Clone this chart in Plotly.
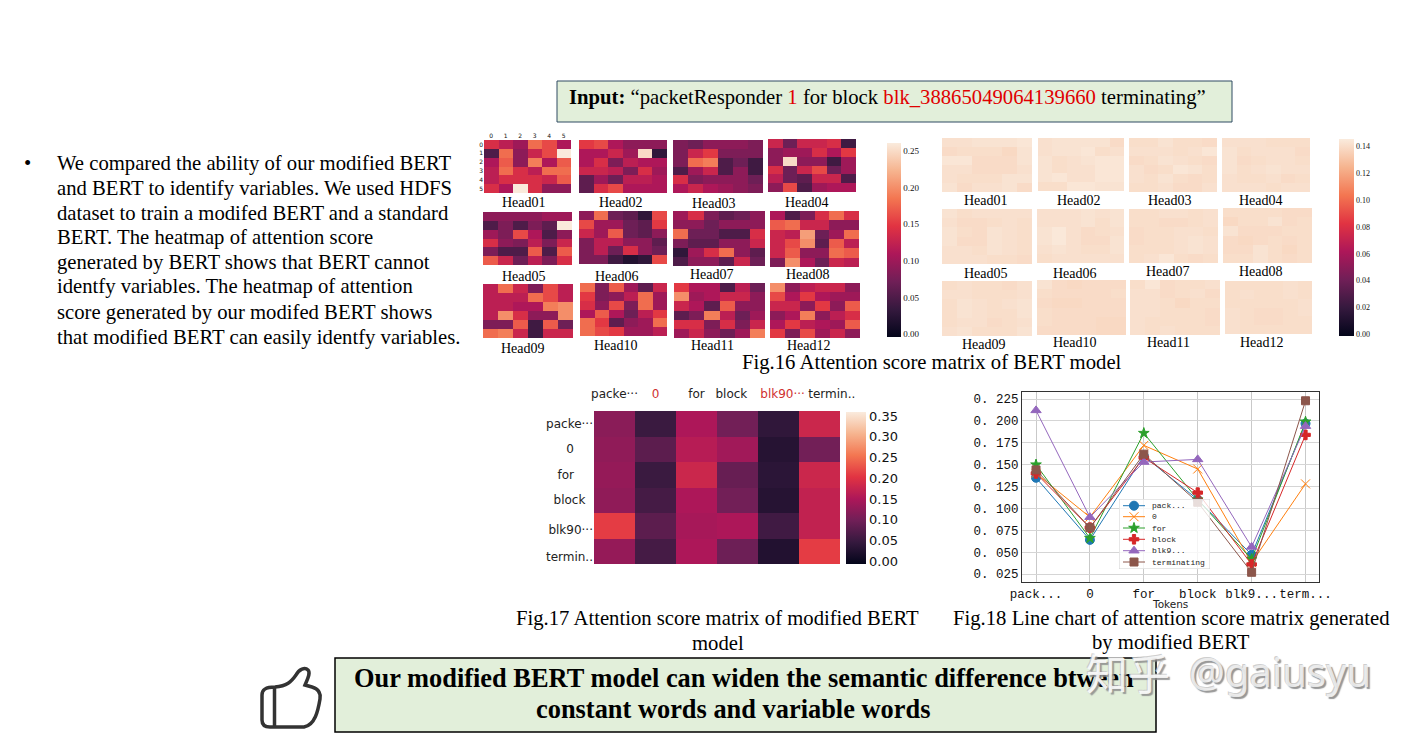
import plotly.graph_objects as go

W, H = 1408, 735

ROCKET = [[0, "#03051a"], [1/7, "#35193e"], [2/7, "#701f57"], [3/7, "#ad1759"],
          [4/7, "#e13342"], [5/7, "#f37651"], [6/7, "#f6b48f"], [1, "#faebdd"]]

# ---- Fig.16 left: attention scores
L01 = [[.14,.12,.10,.18,.16,.11],[.05,.18,.09,.13,.16,.26],[.11,.17,.09,.19,.11,.17],
       [.12,.18,.14,.12,.18,.18],[.12,.14,.14,.14,.13,.17],[.14,.11,.26,.14,.09,.09]]
L02 = [[.15,.16,.11,.09,.09,.09],[.11,.11,.13,.10,.25,.03],[.11,.14,.08,.12,.11,.11],
       [.13,.13,.12,.08,.14,.10],[.06,.10,.07,.12,.12,.11],[.06,.14,.16,.11,.11,.11]]
L03 = [[.08,.07,.09,.09,.09,.08],[.08,.13,.15,.08,.08,.08],[.08,.18,.19,.05,.07,.04],
       [.05,.10,.13,.05,.09,.04],[.14,.08,.09,.09,.09,.07],[.11,.13,.11,.10,.09,.08]]
L04 = [[.13,.07,.13,.13,.14,.04],[.09,.10,.10,.14,.11,.15],[.09,.25,.09,.09,.04,.10],
       [.14,.07,.13,.16,.07,.10],[.12,.07,.06,.13,.13,.05],[.09,.16,.05,.10,.11,.11]]
L05 = [[.09,.09,.09,.09,.10,.10],[.05,.08,.05,.08,.06,.26],[.10,.08,.16,.11,.05,.09],
       [.14,.09,.08,.12,.08,.13],[.08,.05,.05,.17,.05,.17],[.17,.13,.07,.12,.08,.14]]
L06 = [[.09,.18,.07,.06,.03,.16],[.16,.10,.10,.07,.06,.15],[.13,.10,.17,.07,.06,.09],
       [.08,.12,.12,.09,.09,.06],[.08,.12,.07,.14,.09,.07],[.08,.08,.04,.02,.03,.16]]
L07 = [[.10,.14,.08,.06,.07,.09],[.09,.09,.07,.09,.09,.09],[.18,.07,.07,.05,.05,.14],
       [.08,.06,.06,.09,.09,.13],[.03,.10,.14,.18,.09,.06],[.05,.09,.09,.06,.13,.07]]
L08 = [[.11,.05,.08,.14,.18,.14],[.17,.18,.13,.13,.09,.09],[.13,.12,.21,.07,.10,.18],
       [.13,.16,.20,.06,.17,.12],[.13,.17,.09,.09,.18,.17],[.08,.20,.11,.07,.13,.12]]
L09 = [[.12,.18,.13,.08,.16,.12],[.12,.12,.12,.18,.16,.12],[.12,.12,.11,.11,.19,.20],
       [.12,.20,.14,.09,.09,.20],[.08,.08,.17,.04,.17,.07],[.18,.19,.13,.04,.13,.13]]
L10 = [[.18,.08,.17,.10,.06,.13],[.15,.08,.09,.12,.18,.10],[.14,.09,.16,.08,.18,.10],
       [.11,.17,.11,.07,.12,.15],[.18,.15,.06,.09,.10,.18],[.18,.16,.15,.10,.10,.12]]
L11 = [[.15,.11,.11,.05,.12,.07],[.20,.10,.11,.13,.13,.09],[.13,.11,.06,.17,.09,.09],
       [.06,.08,.19,.12,.07,.10],[.14,.14,.08,.14,.08,.13],[.10,.13,.09,.07,.10,.19]]
L12 = [[.20,.09,.12,.13,.13,.09],[.16,.11,.15,.11,.10,.10],[.13,.13,.09,.15,.09,.17],
       [.09,.11,.19,.09,.12,.14],[.11,.15,.12,.11,.10,.17],[.15,.08,.16,.10,.13,.09]]

# ---- Fig.16 right
R01 = [[.141,.141,.142,.142,.142,.143],[.139,.140,.140,.140,.138,.142],[.143,.143,.139,.139,.139,.142],
       [.141,.141,.139,.139,.139,.141],[.141,.140,.140,.140,.142,.142],[.142,.139,.141,.141,.142,.139]]
R02 = [[.141,.142,.142,.142,.142,.139],[.141,.142,.142,.143,.140,.141],[.142,.140,.141,.142,.143,.143],
       [.142,.140,.141,.141,.143,.143],[.142,.143,.141,.141,.143,.143],[.140,.140,.143,.143,.142,.142]]
R03 = [[.140,.140,.142,.140,.140,.139],[.141,.141,.141,.140,.141,.143],[.139,.140,.142,.141,.140,.139],
       [.141,.139,.140,.143,.142,.140],[.141,.140,.142,.140,.139,.140],[.140,.140,.141,.139,.139,.141]]
R04 = [[.141,.141,.141,.140,.140,.140],[.142,.140,.141,.141,.141,.139],[.142,.139,.140,.141,.141,.140],
       [.142,.140,.141,.142,.141,.141],[.141,.140,.140,.141,.139,.140],[.141,.141,.141,.140,.141,.141]]
R05 = [[.142,.140,.141,.141,.141,.141],[.141,.139,.139,.140,.141,.140],[.142,.140,.139,.142,.141,.140],
       [.142,.139,.139,.142,.141,.140],[.141,.141,.140,.142,.141,.140],[.141,.141,.141,.140,.140,.139]]
R06 = [[.141,.141,.141,.142,.141,.142],[.141,.141,.141,.142,.140,.142],[.142,.144,.141,.139,.140,.141],
       [.142,.144,.141,.139,.139,.142],[.141,.142,.141,.140,.140,.142],[.140,.141,.141,.141,.141,.141]]
R07 = [[.140,.140,.141,.141,.140,.141],[.140,.140,.139,.139,.140,.141],[.139,.140,.140,.141,.141,.140],
       [.139,.140,.140,.141,.142,.141],[.140,.140,.140,.141,.142,.141],[.140,.141,.143,.140,.139,.140]]
R08 = [[.140,.140,.140,.140,.139,.139],[.138,.140,.140,.142,.139,.140],[.142,.139,.139,.139,.140,.140],
       [.139,.138,.139,.140,.139,.140],[.139,.139,.142,.140,.138,.140],[.140,.140,.142,.140,.139,.140]]
R09 = [[.140,.141,.140,.140,.139,.141],[.141,.141,.140,.140,.140,.141],[.140,.142,.141,.140,.141,.142],
       [.140,.142,.141,.140,.140,.142],[.140,.141,.141,.139,.140,.141],[.141,.142,.140,.140,.140,.142]]
R10 = [[.142,.139,.138,.139,.139,.139],[.140,.139,.139,.139,.139,.140],[.139,.138,.138,.139,.139,.139],
       [.140,.139,.139,.139,.139,.139],[.140,.139,.139,.139,.138,.138],[.139,.139,.139,.139,.138,.138]]
R11 = [[.140,.143,.139,.140,.140,.141],[.141,.141,.139,.140,.141,.139],[.141,.141,.140,.138,.140,.140],
       [.141,.141,.140,.140,.140,.139],[.141,.140,.140,.140,.140,.139],[.141,.140,.141,.140,.140,.140]]
R12 = [[.140,.140,.140,.140,.141,.140],[.140,.141,.140,.140,.141,.140],[.140,.140,.140,.140,.140,.141],
       [.141,.140,.139,.139,.140,.141],[.141,.140,.139,.139,.140,.140],[.141,.140,.140,.140,.140,.140]]

HEADS = ["Head%02d" % i for i in range(1, 13)]
LEFT = [L01, L02, L03, L04, L05, L06, L07, L08, L09, L10, L11, L12]
RIGHT = [R01, R02, R03, R04, R05, R06, R07, R08, R09, R10, R11, R12]

# ---- Fig.17
F17 = [[.120,.050,.150,.100,.040,.180],[.125,.080,.160,.140,.030,.100],[.130,.050,.180,.090,.035,.180],
       [.125,.060,.150,.100,.030,.170],[.210,.080,.145,.150,.055,.170],[.130,.060,.150,.095,.025,.210]]
F17_XLABELS = ["packe···", "<span style='color:#d03030'>0</span>", "for", "block",
               "<span style='color:#d03030'>blk90···</span>", "termin.."]
F17_YLABELS = ["packe···", "0\u00a0\u00a0\u00a0\u00a0\u00a0", "for\u00a0\u00a0\u00a0\u00a0\u00a0",
               "block\u00a0\u00a0", "blk90···", "termin.."]

# ---- Fig.18
TOKENS = ["pack...", "0", "for", "block", "blk9...", "term..."]
S_PACK = [.135, .064, .160, .110, .047, .197]
S_ZERO = [.140, .090, .172, .145, .038, .128]
S_FOR = [.150, .066, .186, .110, .042, .199]
S_BLOCK = [.140, .078, .158, .118, .036, .184]
S_BLK9 = [.212, .090, .153, .156, .056, .194]
S_TERM = [.144, .078, .162, .107, .027, .223]
LEGEND = ["pack...", "0", "for", "block", "blk9...", "terminating"]
COLORS = ["#1f77b4", "#ff7f0e", "#2ca02c", "#d62728", "#9467bd", "#8c564b"]
SYMBOLS = ["circle", "x-thin", "star", "cross", "triangle-up", "square"]
SIZES = [9, 9, 8, 8, 9, 8]
Y_TICKS = [.025, .05, .075, .1, .125, .15, .175, .2, .225]

# ---- Layout rectangles (left, top, right, bottom in page pixels)
L_RECTS = [(484,140,571,193),(579,140,667,193),(673,140,763,193),(768,139,856,192),
           (483,212,572,265),(579,211,667,264),(673,211,765,266),(770,211,859,267),
           (483,284,573,338),(580,283,667,336),(674,283,765,338),(770,283,860,338)]
R_RECTS = [(942,138,1032,192),(1038,138,1124,191),(1129,138,1217,192),(1222,138,1310,192),
           (942,209,1032,264),(1037,209,1124,263),(1129,209,1218,263),(1223,208,1312,263),
           (942,281,1032,336),(1037,280,1126,335),(1130,280,1220,335),(1225,281,1312,334)]
L_LABELS = [(524,202),(621,202),(714,203),(807,202),(524,276),(617,276),(712,274),(808,274),
            (523,348),(616,345),(712,345),(809,345)]
R_LABELS = [(986,200),(1079,200),(1170,201),(1261,200),(986,273),(1075,273),(1168,271),(1261,271),
            (984,344),(1075,342),(1168,342),(1262,342)]

SERIF = "Liberation Serif"
SANS = "DejaVu Sans"
MONO = "Liberation Mono"

fig = go.Figure()
layout_axes = {}
axis_n = [0]
annots = []
shapes = []


def px(x):
    return x / W


def py(y):
    return 1 - y / H


def new_axes(rect, xopts=None, yopts=None):
    axis_n[0] += 1
    n = axis_n[0]
    l, t, r, b = rect
    xa = dict(domain=[px(l), px(r)], anchor="y%d" % n, showgrid=False, zeroline=False,
              showticklabels=False, ticks="", showline=False)
    ya = dict(domain=[py(b), py(t)], anchor="x%d" % n, showgrid=False, zeroline=False,
              showticklabels=False, ticks="", showline=False)
    xa.update(xopts or {})
    ya.update(yopts or {})
    layout_axes["xaxis%d" % n] = xa
    layout_axes["yaxis%d" % n] = ya
    return "x%d" % n, "y%d" % n


def text(s, x, y, size, anchor="center", color="#000", family=SERIF, **font):
    annots.append(dict(text=s, x=px(x), y=py(y), xref="paper", yref="paper", showarrow=False,
                       xanchor=anchor, yanchor="middle", align="left" if anchor == "left" else "center",
                       font=dict(family=family, size=size, color=color, **font)))


def cbar(rect, dtick, fmt, size, family):
    l, t, r, b = rect
    return dict(x=px(l), xanchor="left", y=py(t), yanchor="top", len=(b - t) / H, lenmode="fraction",
                thickness=r - l, thicknessmode="pixels", xpad=0, ypad=0, outlinewidth=0,
                dtick=dtick, tick0=0, tickformat=fmt, ticks="", ticklen=0,
                tickfont=dict(family=family, size=size, color="#111"))


def heat(z, rect, zmin, zmax, colorbar=None, xopts=None, yopts=None):
    xa, ya = new_axes(rect, xopts, dict(autorange="reversed", **(yopts or {})))
    fig.add_trace(go.Heatmap(z=z, xaxis=xa, yaxis=ya, zmin=zmin, zmax=zmax, colorscale=ROCKET,
                             showscale=colorbar is not None, colorbar=colorbar, xgap=0, ygap=0,
                             hoverinfo="skip"))


# Fig.16
small_x = dict(showticklabels=True, side="top", tickvals=list(range(6)), ticktext=[str(i) for i in range(6)],
               tickangle=0, tickfont=dict(family=SANS, size=6, color="#111"))
small_y = dict(showticklabels=True, tickvals=list(range(6)), ticktext=[str(i) for i in range(6)],
               tickfont=dict(family=SANS, size=6, color="#111"))
for i, z in enumerate(LEFT):
    cb = cbar((887, 143, 901, 337), .05, ".2f", 9, SERIF) if i == 11 else None
    heat(z, L_RECTS[i], -.004, .261, cb, small_x if i == 0 else None, small_y if i == 0 else None)
    text(HEADS[i], L_LABELS[i][0], L_LABELS[i][1], 14)
for i, z in enumerate(RIGHT):
    cb = cbar((1339, 139, 1354, 336), .02, ".2f", 8, SERIF) if i == 11 else None
    heat(z, R_RECTS[i], -.001, .145, cb)
    text(HEADS[i], R_LABELS[i][0], R_LABELS[i][1], 14)

# Fig.17
heat(F17, (594, 411, 840, 564), -.007, .36, cbar((846, 412, 866, 564), .05, ".2f", 13, SANS),
     dict(showticklabels=True, side="top", tickvals=[0, 1, 2, 2.85, 4.1, 5.3], ticktext=F17_XLABELS,
          ticks="outside", ticklen=7, tickcolor="rgba(0,0,0,0)", tickangle=0,
          tickfont=dict(family=SANS, size=12, color="#222")),
     dict(showticklabels=True, tickvals=[0, 1, 2, 3, 4.15, 5.2], ticktext=F17_YLABELS,
          tickfont=dict(family=SANS, size=12, color="#222")))

# Fig.18
xa, ya = new_axes((1022, 392, 1319, 582),
                  dict(range=[-.26, 5.25], tickvals=list(range(6)), ticktext=TOKENS, showticklabels=True,
                       tickangle=0, showgrid=True, gridcolor="#c9c9c9", gridwidth=1, showline=True, mirror=True,
                       linecolor="#333", linewidth=1, tickfont=dict(family=MONO, size=12.5, color="#111")),
                  dict(range=[.0159, .233], tickvals=Y_TICKS, ticktext=["0. %03d" % round(v * 1000) for v in Y_TICKS],
                       showticklabels=True, showgrid=True, gridcolor="#d5d5d5", gridwidth=1, showline=True,
                       mirror=True, linecolor="#333", linewidth=1, tickfont=dict(family=MONO, size=12.5, color="#111")))
for i, s in enumerate([S_PACK, S_ZERO, S_FOR, S_BLOCK, S_BLK9, S_TERM]):
    fig.add_trace(go.Scatter(x=list(range(6)), y=s, xaxis=xa, yaxis=ya, mode="lines+markers", showlegend=False,
                             line=dict(color=COLORS[i], width=1),
                             marker=dict(symbol=SYMBOLS[i], size=SIZES[i], color=COLORS[i],
                                         line=dict(color=COLORS[i], width=1))))
text("Tokens", 1170, 604, 10.5, family=SANS, color="#222")

# Fig.18 key, drawn with its own little axes since its rows are tighter than Plotly's legend allows
kx, ky = new_axes((1119, 499, 1210, 569), dict(range=[0, 91]), dict(range=[70, 0]))
fig.add_trace(go.Scatter(x=[0, 91, 91, 0, 0], y=[0, 0, 70, 70, 0], xaxis=kx, yaxis=ky, mode="lines", fill="toself",
                         fillcolor="rgba(255,255,255,0.8)", line=dict(color="#d0d0d0", width=1), showlegend=False))
key_rows = [6.7, 17.7, 29, 40.3, 51.7, 63]
for i, name in enumerate(LEGEND):
    fig.add_trace(go.Scatter(x=[4, 26], y=[key_rows[i]] * 2, xaxis=kx, yaxis=ky, mode="lines",
                             showlegend=False, line=dict(color=COLORS[i], width=1)))
    fig.add_trace(go.Scatter(x=[15], y=[key_rows[i]], xaxis=kx, yaxis=ky, mode="markers", showlegend=False,
                             marker=dict(symbol=SYMBOLS[i], size=SIZES[i], color=COLORS[i],
                                         line=dict(color=COLORS[i], width=1))))
    text(name, 1150, 499 + key_rows[i], 8, anchor="left", family=MONO, color="#222")

# Slide boxes
def box(l, t, r, b, fill, line, width):
    shapes.append(dict(type="rect", xref="paper", yref="paper", x0=px(l), x1=px(r), y0=py(b), y1=py(t),
                       fillcolor=fill, line=dict(color=line, width=width), layer="below"))


box(557, 81, 1232, 122, "#e2efda", "#2e4a62", 1)
box(335, 658, 1156, 732, "#e2efda", "#000", 1.5)

# Slide text
RED = "#e00000"
TS = 20.7
text("<b>Input:</b> “packetResponder <span style='color:%s'>1</span> for block "
     "<span style='color:%s'>blk_38865049064139660</span> terminating”" % (RED, RED), 567, 98, TS, anchor="left")
text("•", 22, 163, TS, anchor="left")
PARA = ["We compared the ability of our modified BERT", "and BERT to identify variables. We used HDFS",
        "dataset to train a modifed BERT and a standard", "BERT. The heatmap of attention score",
        "generated by BERT shows that BERT cannot", "identfy variables. The heatmap of attention",
        "score generated by our modifed BERT shows", "that modified BERT can easily identfy variables."]
PARA_Y = [163, 188, 213, 238, 262, 287, 312, 337]
for s, y in zip(PARA, PARA_Y):
    text(s, 55, y, TS, anchor="left")
text("Fig.16 Attention score matrix of BERT model", 932, 363, TS)
text("Fig.17 Attention score matrix of modified BERT", 718, 618, TS)
text("model", 718, 643, TS)
text("Fig.18 Line chart of attention score matrix generated", 1171, 618, TS)
text("by modified BERT", 1171, 642, TS)
text("<b>Our modified BERT model can widen the semantic difference btween</b>", 744, 678, 26.4)
text("<b>constant words and variable words</b>", 733, 709, 26.4)

# Thumb icon
def P(x, y):
    return "%.5f,%.5f" % (px(x), py(y))


thumb = ("M" + P(275, 687) + " C" + P(287, 686) + " " + P(291, 682) + " " + P(296, 675) +
         " C" + P(299, 669) + " " + P(305, 667) + " " + P(308, 670) +
         " C" + P(311, 673) + " " + P(307, 680) + " " + P(305, 685) +
         " L" + P(312, 687) + " C" + P(319, 689) + " " + P(321, 694) + " " + P(320, 699) +
         " C" + P(318, 711) + " " + P(315, 725) + " " + P(304, 727) +
         " L" + P(270, 727) + " C" + P(265, 727) + " " + P(262, 725) + " " + P(262, 720) +
         " L" + P(262, 695) + " C" + P(262, 690) + " " + P(265, 687) + " " + P(275, 687) + " Z")
shapes.append(dict(type="path", path=thumb, xref="paper", yref="paper", line=dict(color="#333", width=3.5)))
shapes.append(dict(type="line", xref="paper", yref="paper", x0=px(274.5), x1=px(274.5), y0=py(687), y1=py(727),
                   line=dict(color="#333", width=3.5)))

# Watermark
SHADOW = "2px 2px 1px #8c8c8c, -1px -1px 0 #c8c8c8"
annots.append(dict(text="知乎", x=px(1128), y=py(671), xref="paper", yref="paper", showarrow=False,
                   xanchor="center", yanchor="middle",
                   font=dict(family="Noto Sans CJK SC", size=42, color="rgba(255,255,255,0.85)", shadow=SHADOW)))
annots.append(dict(text="@gaiusyu", x=px(1280), y=py(671), xref="paper", yref="paper", showarrow=False,
                   xanchor="center", yanchor="middle",
                   font=dict(family="Noto Sans", size=40, color="rgba(240,240,240,0.9)", shadow=SHADOW)))

fig.update_layout(width=W, height=H, autosize=False, margin=dict(l=0, r=0, t=0, b=0, pad=0, autoexpand=False),
                  paper_bgcolor="#fff", plot_bgcolor="rgba(0,0,0,0)", showlegend=False,
                  annotations=annots, shapes=shapes, **layout_axes)

fig.write_html("out.html", config={"displayModeBar": False}, post_script="document.body.style.margin='0';")
